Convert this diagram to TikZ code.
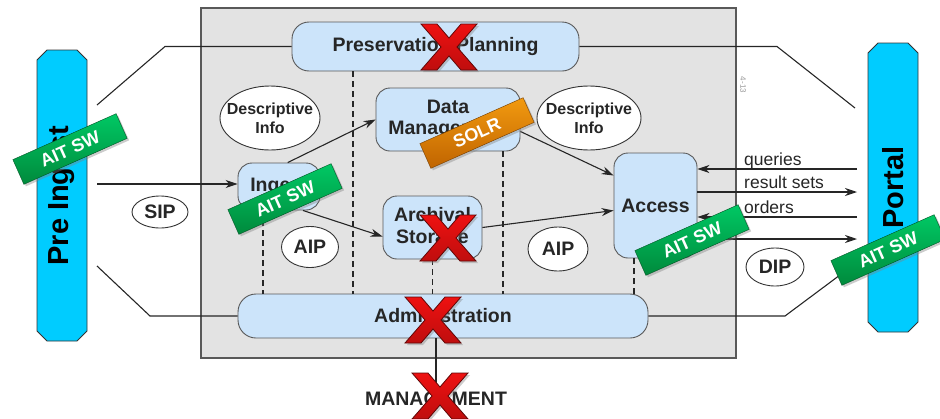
\documentclass[tikz,border=0pt]{standalone}
\usepackage{fontspec}
\setmainfont{Liberation Sans}
\usetikzlibrary{positioning,shapes.geometric,shapes.misc,arrows.meta,shadows}
\definecolor{oaisgray}{HTML}{E3E3E3}
\definecolor{boxblue}{HTML}{CCE4FA}
\definecolor{barcyan}{HTML}{00CCFF}
\definecolor{tagtop}{HTML}{00C864}
\definecolor{tagbot}{HTML}{008A3C}
\definecolor{soltop}{HTML}{F29A10}
\definecolor{solbot}{HTML}{C06400}
\definecolor{xred}{HTML}{EE1111}
\tikzset{
  fbig/.style={font=\bfseries\fontsize{19.5}{21.5}\selectfont},
  fsmall/.style={font=\bfseries\fontsize{16}{19}\selectfont},
  oais/.style={draw=black!65, line width=1.2pt, fill=oaisgray, inner sep=0pt},
  box/.style={draw=black!65, line width=0.9pt, fill=boxblue, rounded corners=14pt,
    inner sep=0pt, align=center, text=black!85, fbig},
  info/.style 2 args={ellipse, draw=black!80, line width=0.9pt, fill=white, inner sep=0pt,
    label={[#1, align=center, text=black!85]center:#2}},
  bar/.style={chamfered rectangle, chamfered rectangle xsep=5pt, chamfered rectangle ysep=5pt,
    draw=black!80, line width=0.9pt, fill=barcyan, minimum height=50pt, inner sep=0pt,
    font=\bfseries\fontsize{29}{31}\selectfont},
  conn/.style={black!85, line width=1.1pt},
  flow/.style={conn, -{Stealth[length=12pt,width=8pt]}},
  divider/.style={black!85, line width=1.3pt, dash pattern=on 6pt off 4pt},
  msg/.style={text=black!85, font=\fontsize{17.5}{19}\selectfont, inner sep=0pt},
  tag/.style={draw=tagbot!60!black, top color=tagtop, bottom color=tagbot, rotate=24,
    minimum width=113pt, minimum height=27pt, inner sep=0pt, text=white,
    font=\bfseries\fontsize{18}{20}\selectfont,
    drop shadow={shadow xshift=2pt, shadow yshift=-2pt, opacity=.4}},
  solr/.style={draw=solbot!60!black, top color=soltop, bottom color=solbot},
  redx/.pic={
    \draw[draw=xred!40!black, line width=0.8pt, top color=xred, bottom color=xred!80!black,
      drop shadow={shadow xshift=2pt, shadow yshift=-2pt, opacity=.4}]
      (-28,-23) -- (-12,-23) -- (0,-9) -- (12,-23) -- (28,-23) -- (8,0) -- (28,23)
      -- (12,23) -- (0,9) -- (-12,23) -- (-28,23) -- (-8,0) -- cycle;
  }
}
\begin{document}
\begin{tikzpicture}[x=1pt,y=-1pt]
\useasboundingbox (0,0) rectangle (940,418);
\node[oais, minimum width=535pt, minimum height=350pt] (oais) at (468.5,183) {};
\node[rotate=-90, text=black!40, font=\fontsize{8}{8}\selectfont] (pageno) at (743,85) {4-13};
% the two outer systems
\node[bar, rotate=90, minimum width=291pt] (preingest) at (62,195.5) {Pre Ingest};
\node[bar, rotate=90, minimum width=289pt] (portal) at (893,187.5) {Portal};
% functional entities
\node[box, minimum width=287pt, minimum height=49pt, rounded corners=17pt] (plan) at (435.5,46.5) {Preservation Planning};
\node[box, minimum width=144pt, minimum height=63pt] (data) at (448,119.5) {Data\\Management};
\node[box, minimum width=82pt, minimum height=47pt] (ingest) at (279,186.5) {Ingest};
\node[box, minimum width=99pt, minimum height=63pt] (archive) at (432.5,227.5) {Archival\\Storage};
\node[box, minimum width=83pt, minimum height=105pt] (access) at (655.5,205.5) {Access};
\node[box, minimum width=410pt, minimum height=44pt, rounded corners=18pt] (admin) at (443,316) {Administration};
% dashed dividers
\draw[divider] ([xshift=-82.5pt]plan.south) coordinate (d1) -- (d1 |- admin.north);
\draw[divider] ([xshift=-16pt]ingest.south) coordinate (d2) -- (d2 |- admin.north);
\draw[divider] (archive.south) -- (archive.south |- admin.north);
\draw[divider] ([xshift=55pt]data.south) coordinate (d4) -- (d4 |- admin.north);
\draw[divider] ([xshift=-21.5pt]access.south) coordinate (d5) -- (d5 |- admin.north);
% information packages
\node[info={fsmall}{Descriptive\\Info}, minimum width=100pt, minimum height=64pt] (descl) at (270,118) {};
\node[info={fsmall}{Descriptive\\Info}, minimum width=104pt, minimum height=64pt] (descr) at (589,118) {};
\node[info={fbig}{SIP}, minimum width=56pt, minimum height=32pt] (sip) at (160,212) {};
\node[info={fbig}{AIP}, minimum width=57pt, minimum height=41pt] (aipl) at (310,247) {};
\node[info={fbig}{AIP}, minimum width=60pt, minimum height=44pt] (aipr) at (558,249) {};
\node[info={fbig}{DIP}, minimum width=58pt, minimum height=38pt] (dip) at (775,267) {};
\node[fbig, text=black!85, inner sep=0pt] (mgmt) at (436,399) {MANAGEMENT};
% connectors
\coordinate (p1) at (97,105);
\coordinate (p2) at (165,46.5);
\coordinate (p3) at (97,266);
\coordinate (p4) at (150,316);
\coordinate (q1) at (777,46.5);
\coordinate (q2) at (855,108);
\coordinate (q3) at (785,316);
\coordinate (q4) at (840,275);
\coordinate (s0) at (97,184);
\draw[conn] (p1) -- (p2) -- (plan.west);
\draw[conn] (p3) -- (p4) -- (admin.west);
\draw[conn] (plan.east) -- (q1) -- (q2);
\draw[conn] (admin.east) -- (q3) -- (q4);
\draw[conn] (mgmt.north |- admin.south) -- ([yshift=2pt]mgmt.north);
\draw[flow] (s0) -- (s0 -| ingest.west);
\draw[flow] (ingest.70) -- (data.west);
\draw[flow] (ingest.-45) -- ([yshift=-9pt]archive.west);
\draw[flow] (archive.east) -- ([yshift=-5pt]access.west);
\draw[flow] ([yshift=-12pt]data.east) -- ([yshift=30pt]access.west);
\coordinate (r1) at (857,169);
\coordinate (r2) at (857,192);
\coordinate (r3) at (857,217);
\coordinate (r4) at (857,239);
\draw[flow] (r1) -- (r1 -| access.east);
\draw[flow] (r2 -| access.east) -- (r2);
\draw[flow] (r3) -- (r3 -| access.east);
\draw[flow] (r4 -| access.east) -- (r4);
\node[msg, anchor=base west] (queries) at (744,165.5) {queries};
\node[msg, anchor=base west] (results) at (744,188.5) {result sets};
\node[msg, anchor=base west] (orders) at (744,213) {orders};
% software tags
\node[tag] (tag1) at (70,149) {AIT SW};
\node[tag] (tag2) at (285,199) {AIT SW};
\node[tag, solr] (tag3) at (477,133) {SOLR};
\node[tag] (tag4) at (692,240) {AIT SW};
\node[tag] (tag5) at (888,250) {AIT SW};
% crossed out
\pic at (449,47) {redx};
\pic at (448,238) {redx};
\pic at (433,320) {redx};
\pic at (440,396) {redx};
\end{tikzpicture}
\end{document}
